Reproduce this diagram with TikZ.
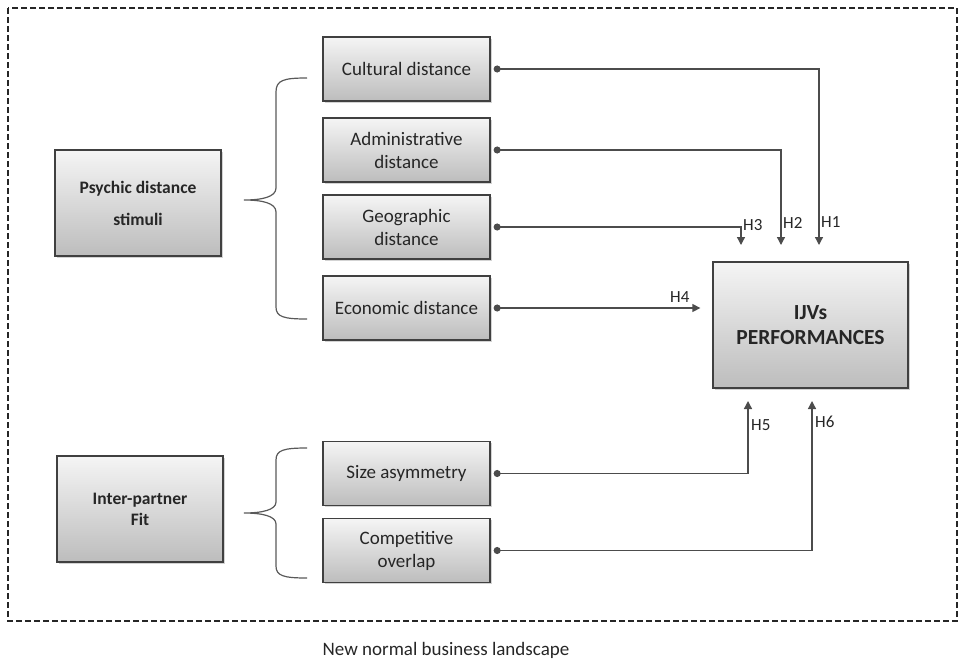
\documentclass[tikz,border=0pt]{standalone}
\usepackage{fontspec}
\setmainfont{Carlito}
\usetikzlibrary{arrows.meta,shadows}

\tikzset{
  factor/.style={draw=gray!50!black, line width=1.3pt, top color=gray!8, bottom color=gray!52,
    drop shadow={shadow xshift=1.5pt, shadow yshift=-1.5pt, opacity=0.35},
    inner sep=0pt, align=center, text=black!85},
  item/.style={factor, minimum width=167pt, minimum height=64pt,
    font=\fontsize{19}{23}\selectfont},
  group/.style={factor, minimum width=166pt, minimum height=106pt,
    font=\bfseries\fontsize{17.5}{21}\selectfont},
  link/.style={line width=1.3pt, draw=black!70, shorten <=3pt,
    {Circle[length=7pt]}-{Triangle[length=8pt,width=8pt]}},
  hyp/.style={font=\fontsize{17}{19}\selectfont, text=black!85, inner sep=0pt, anchor=west},
  brace/.style={line width=1.2pt, draw=black!65}
}

\begin{document}
\begin{tikzpicture}[x=1pt, y=-1pt]
  \useasboundingbox (0,0) rectangle (959,659);

  % Landscape frame
  \draw[line width=1.3pt, dash pattern=on 6pt off 3pt, draw=black!85] (8,8) rectangle (957,621);
  \node[font=\fontsize{19}{22}\selectfont, text=black!85] (land) at (446,650) {New normal business landscape};

  % Left side - groups
  \node[group] (psy) at (138,203) {Psychic distance\\[11pt]stimuli};
  \node[group] (fit) at (140,509) {Inter-partner\\Fit};

  % Middle - distance items
  \node[item] (cult) at (406.5,69) {Cultural distance};
  \node[item] (admin) at (406.5,150) {Administrative\\distance};
  \node[item] (geo) at (406.5,227) {Geographic\\distance};
  \node[item] (econ) at (406.5,308) {Economic distance};
  \node[item] (size) at (406.5,473.5) {Size asymmetry};
  \node[item] (comp) at (406.5,550.5) {Competitive\\overlap};

  % Right side - outcome
  \node[factor, minimum width=195pt, minimum height=126pt,
    font=\bfseries\fontsize{21.5}{25}\selectfont] (ijv) at (810.5,325) {IJVs\\PERFORMANCES};

  % Braces
  \draw[brace] (307,78) .. controls (284,78) and (276,80) .. (276,92) -- (276,188)
    .. controls (276,197) and (262,200) .. (244,200) .. controls (262,200) and (276,203) .. (276,212)
    -- (276,307) .. controls (276,317) and (284,319) .. (307,319);
  \draw[brace] (307,448) .. controls (284,448) and (276,450) .. (276,460) -- (276,502)
    .. controls (276,510) and (262,513) .. (244,513) .. controls (262,513) and (276,516) .. (276,524)
    -- (276,566) .. controls (276,576) and (284,578) .. (307,578);

  % Arrow ends
  \coordinate (h1) at (819,245);
  \coordinate (h2) at (781,245);
  \coordinate (h3) at (741,245);
  \coordinate (h5) at (748,401);
  \coordinate (h6) at (812,401);

  % Hypotheses
  \draw[link] (cult.east) -| (h1);
  \draw[link] (admin.east) -| (h2);
  \draw[link] (geo.east) -| (h3);
  \draw[link, shorten >=12pt] (econ.east) -- (econ.east -| ijv.west);
  \draw[link] (size.east) -| (h5);
  \draw[link] (comp.east) -| (h6);

  \node[hyp] (l1) at (821,222) {H1};
  \node[hyp] (l2) at (783,223) {H2};
  \node[hyp] (l3) at (743,225) {H3};
  \node[hyp] (l4) at (670,297) {H4};
  \node[hyp] (l5) at (751,425) {H5};
  \node[hyp] (l6) at (815,422) {H6};
\end{tikzpicture}
\end{document}
